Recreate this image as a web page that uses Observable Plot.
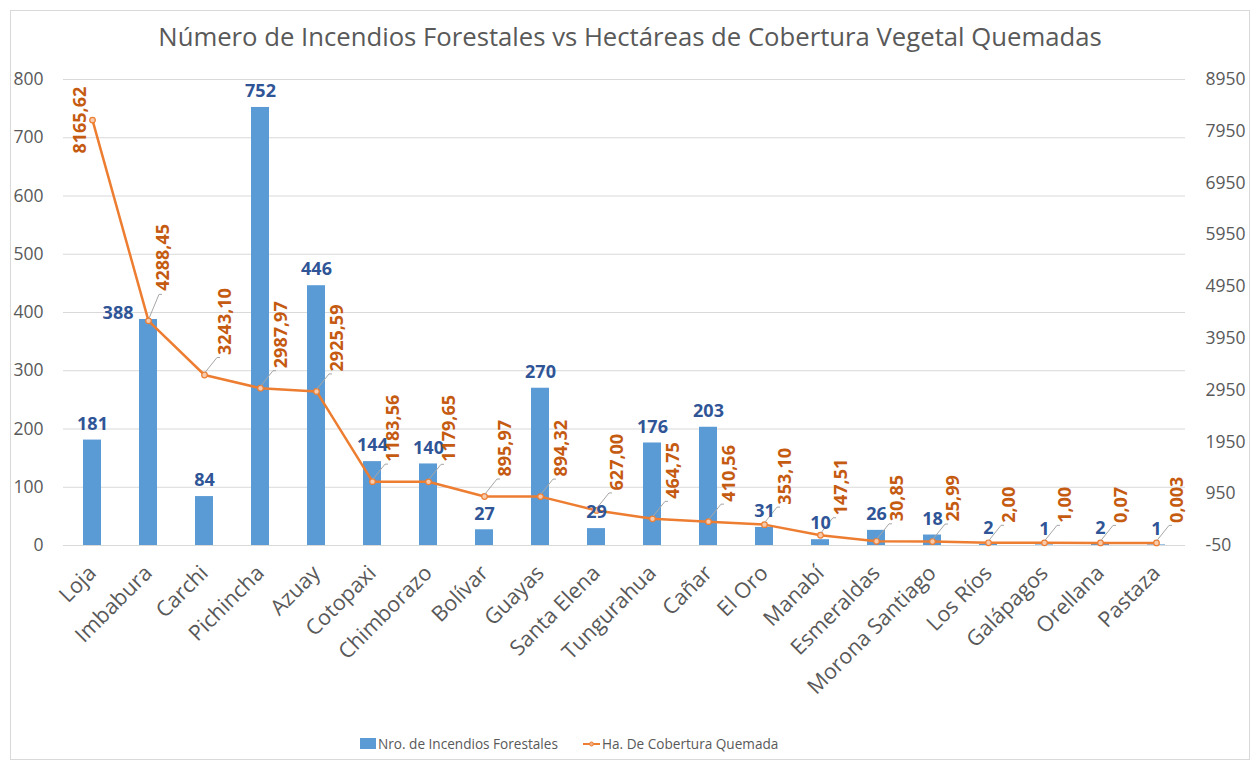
<!DOCTYPE html>
<html>
<head>
<meta charset="utf-8">
<script src="https://cdn.jsdelivr.net/npm/d3@7"></script>
<script src="https://cdn.jsdelivr.net/npm/@observablehq/plot@0.6"></script>
<style>
  html, body { margin: 0; padding: 0; background: #fff; width: 1250px; height: 760px; overflow: hidden; }
  body { font-family: "Open Sans", sans-serif; position: relative; }
  #frame { position: absolute; left: 10px; top: 10px; width: 1240px; height: 750px; border: 1px solid #d9d9d9; box-sizing: border-box; }
  #title { position: absolute; left: 0; top: 19px; width: 1260px; text-align: center; font-size: 25.7px; color: #595959; white-space: nowrap; }
  #chart { position: absolute; left: 0; top: 0; }
  .lg { position: absolute; top: 734px; display: flex; align-items: center; font-size: 13.6px; color: #595959; white-space: nowrap; }
  .sw { display: inline-block; width: 16px; height: 11px; background: #5B9BD5; margin-right: 2px; }
</style>
</head>
<body>
<div id="frame"></div>
<div id="title">Número de Incendios Forestales vs Hectáreas de Cobertura Vegetal Quemadas</div>
<div id="chart"></div>
<span class="lg" style="left:360px"><span class="sw"></span>Nro. de Incendios Forestales</span>
<span class="lg" style="left:582px"><svg width="19" height="10" style="margin-right:1px"><line x1="1" y1="5" x2="18" y2="5" stroke="#ED7D31" stroke-width="2"/><circle cx="9.5" cy="5" r="2" fill="#F4B183" stroke="#ED7D31" stroke-width="1"/></svg>Ha. De Cobertura Quemada</span>
<script>
// ---- data ----
const provincias = ["Loja","Imbabura","Carchi","Pichincha","Azuay","Cotopaxi","Chimborazo","Bolívar","Guayas","Santa Elena","Tungurahua","Cañar","El Oro","Manabí","Esmeraldas","Morona Santiago","Los Ríos","Galápagos","Orellana","Pastaza"];
const incendios = [181,388,84,752,446,144,140,27,270,29,176,203,31,10,26,18,2,1,2,1];
const hectareas = [8165.62,4288.45,3243.10,2987.97,2925.59,1183.56,1179.65,895.97,894.32,627.00,464.75,410.56,353.10,147.51,30.85,25.99,2.00,1.00,0.07,0.003];
const hectareasLabels = ["8165,62","4288,45","3243,10","2987,97","2925,59","1183,56","1179,65","895,97","894,32","627,00","464,75","410,56","353,10","147,51","30,85","25,99","2,00","1,00","0,07","0,003"];
const leftTicks = [0,100,200,300,400,500,600,700,800];
const rightTicks = [-50,950,1950,2950,3950,4950,5950,6950,7950,8950];

// right axis (-50..8950) shares the frame with the left axis (0..800)
const toLeft = v => (v + 50) / 11.25;
const toRight = v => v * 11.25 - 50;

const rows = provincias.map((p, i) => ({
  p, i, n: incendios[i], ha: hectareas[i], haLeft: toLeft(hectareas[i]), haLab: hectareasLabels[i]
}));

const blue = "#5B9BD5", orange = "#ED7D31", blueText = "#2F5597", orangeText = "#C55A11", gray = "#595959";
const LDX = 21, LDY = -20;

const leaders = (index, scales) => {
  const g = document.createElementNS("http://www.w3.org/2000/svg", "g");
  const x = scales.x, y = scales.y;
  const bw = x.bandwidth ? x.bandwidth() / 2 : 0;
  rows.forEach(r => {
    if (r.i === 0) return;
    const px = x(r.p) + bw, py = y(r.haLeft);
    let ex, ey;
    if (r.i === 1) { ex = px + 11; ey = py - 26; }
    else { ex = px + LDX - 8; ey = py + LDY + 3; }
    const l = document.createElementNS("http://www.w3.org/2000/svg", "path");
    l.setAttribute("d", `M${px + 1},${py - 2}L${ex},${ey}L${ex + 3},${ey}`);
    l.setAttribute("fill", "none");
    l.setAttribute("stroke", "#A6A6A6");
    l.setAttribute("stroke-width", "1");
    g.appendChild(l);
  });
  return g;
};

const chart = Plot.plot({
  width: 1250,
  height: 720,
  marginTop: 79,
  marginBottom: 175,
  marginLeft: 63,
  marginRight: 65,
  style: { fontFamily: "Open Sans, sans-serif", background: "transparent", overflow: "visible" },
  x: { domain: provincias, padding: 0, label: null },
  y: { domain: [0, 800], label: null },
  marks: [
    Plot.gridY(leftTicks, { stroke: "#D9D9D9", strokeOpacity: 1, strokeWidth: 1.2 }),
    Plot.axisY(leftTicks, { anchor: "left", tickSize: 0, tickPadding: 20, fontSize: 17.5, color: gray, label: null }),
    Plot.axisY(rightTicks.map(toLeft), { anchor: "right", tickSize: 0, tickPadding: 20, fontSize: 17.5, color: gray, label: null, tickFormat: d => String(Math.round(toRight(d))) }),
    Plot.axisX({ tickRotate: -45, tickSize: 0, tickPadding: 24, fontSize: 21.5, color: gray, label: null }),
    Plot.barY(rows, { x: "p", y: "n", fill: blue, insetLeft: 19, insetRight: 19 }),
    Plot.line(rows, { x: "p", y: "haLeft", stroke: orange, strokeWidth: 2.5 }),
    Plot.dot(rows, { x: "p", y: "haLeft", r: 2.8, fill: "#F8CBAD", stroke: orange, strokeWidth: 1.2 }),
    leaders,
    Plot.text(rows.filter(r => r.i !== 1), { x: "p", y: "n", text: d => String(d.n), dy: -16, fill: blueText, fontWeight: "bold", fontSize: 18 }),
    Plot.text(rows.filter(r => r.i === 1), { x: "p", y: "n", text: d => String(d.n), dx: -15, dy: -6, textAnchor: "end", fill: blueText, fontWeight: "bold", fontSize: 18 }),
    Plot.text(rows.filter(r => r.i === 0), { x: "p", y: "haLeft", text: "haLab", rotate: -90, dx: -12, textAnchor: "middle", fill: orangeText, fontWeight: "bold", fontSize: 18 }),
    Plot.text(rows.filter(r => r.i === 1), { x: "p", y: "haLeft", text: "haLab", rotate: -90, dx: 15, dy: -30, textAnchor: "start", fill: orangeText, fontWeight: "bold", fontSize: 18 }),
    Plot.text(rows.filter(r => r.i > 1), { x: "p", y: "haLeft", text: "haLab", rotate: -90, dx: LDX, dy: LDY, textAnchor: "start", fill: orangeText, fontWeight: "bold", fontSize: 18 })
  ]
});
document.getElementById("chart").appendChild(chart);
</script>
</body>
</html>
